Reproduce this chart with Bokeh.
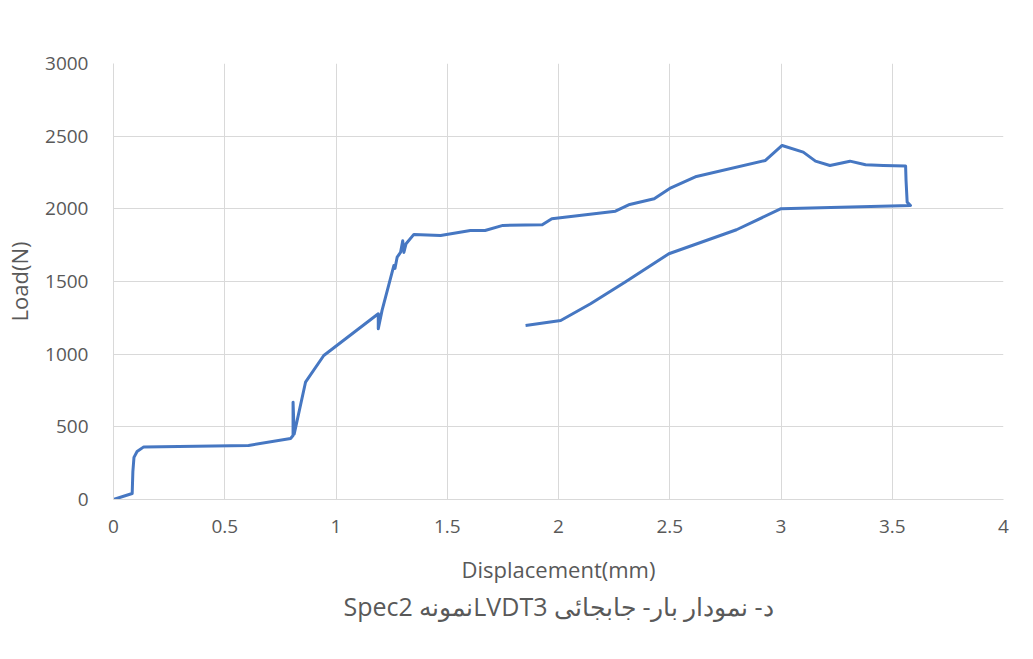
from bokeh.plotting import figure
from bokeh.models import Range1d, FixedTicker, Title
from bokeh.embed import file_html
from bokeh.resources import INLINE

# Data
displacement_mm = [0.0, 0.084, 0.087, 0.092, 0.106, 0.136, 0.607, 0.796, 0.807, 0.807, 0.812,
                   0.863, 0.945, 1.19, 1.19, 1.207, 1.26, 1.265, 1.275, 1.29, 1.30, 1.305,
                   1.315, 1.35, 1.47, 1.604, 1.67, 1.75, 1.927, 1.97, 2.256, 2.32, 2.43,
                   2.50, 2.62, 2.93, 3.005, 3.10, 3.155, 3.22, 3.31, 3.38, 3.46, 3.56,
                   3.562, 3.567, 3.582, 3.0, 2.80, 2.496, 2.30, 2.144, 2.01, 1.852]
load_n = [0, 41, 190, 290, 330, 362, 372, 420, 440, 670, 450,
          807, 991, 1278, 1175, 1301, 1610, 1590, 1668, 1700, 1780, 1700,
          1760, 1824, 1817, 1851, 1851, 1886, 1890, 1932, 1984, 2030, 2069,
          2140, 2223, 2333, 2436, 2390, 2328, 2298, 2328, 2303, 2298, 2294,
          2195, 2046, 2023, 2001, 1856, 1691, 1496, 1347, 1232, 1198]

x_ticks = [0, 0.5, 1, 1.5, 2, 2.5, 3, 3.5, 4]
x_tick_labels = ["0", "0.5", "1", "1.5", "2", "2.5", "3", "3.5", "4"]
y_ticks = [0, 500, 1000, 1500, 2000, 2500, 3000]
y_tick_labels = ["0", "500", "1000", "1500", "2000", "2500", "3000"]

x_title = "Displacement(mm)"
y_title = "Load(N)"
caption = "\u202bد- نمودار بار- جابجائی LVDT3نمونه Spec2\u202c"

FONT = "Open Sans"
GRAY = "#595959"
GRID = "#d9d9d9"

p = figure(width=1017, height=643, output_backend="svg", toolbar_location=None,
           x_range=Range1d(0, 4), y_range=Range1d(0, 3000),
           min_border_left=113, min_border_right=14, min_border_top=63, min_border_bottom=144)
p.outline_line_color = None

p.line(displacement_mm, load_n, line_color="#4677C2", line_width=3, line_join="round")

p.xaxis.ticker = FixedTicker(ticks=x_ticks)
p.yaxis.ticker = FixedTicker(ticks=y_ticks)
p.xaxis.major_label_overrides = {t: l for t, l in zip(x_ticks, x_tick_labels)}
p.yaxis.major_label_overrides = {t: l for t, l in zip(y_ticks, y_tick_labels)}

for ax in (p.xaxis, p.yaxis):
    ax.major_tick_line_color = None
    ax.minor_tick_line_color = None
    ax.major_label_text_font = FONT
    ax.major_label_text_font_size = "19px"
    ax.major_label_text_color = GRAY
    ax.axis_label_text_font = FONT
    ax.axis_label_text_font_size = "22px"
    ax.axis_label_text_color = GRAY
    ax.axis_label_text_font_style = "normal"
    ax.axis_line_color = GRID

p.xaxis.axis_label = x_title
p.yaxis.axis_label = y_title
p.xaxis.major_label_standoff = 14
p.yaxis.major_label_standoff = 19
p.xaxis.axis_label_standoff = 18
p.yaxis.axis_label_standoff = 8

p.xgrid.grid_line_color = GRID
p.ygrid.grid_line_color = GRID
p.xgrid.ticker = FixedTicker(ticks=x_ticks)
p.ygrid.ticker = FixedTicker(ticks=y_ticks)

cap = Title(text=caption, align="center", text_font=FONT, text_font_size="25px",
            text_color=GRAY, text_font_style="normal", standoff=0)
p.add_layout(cap, "below")

open("out.html", "w").write(file_html(p, INLINE))
